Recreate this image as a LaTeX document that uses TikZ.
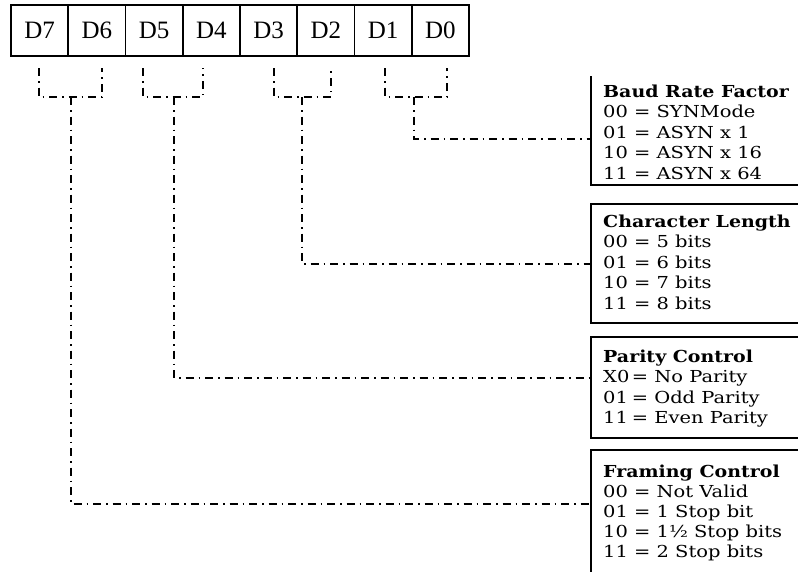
\documentclass[tikz,border=0pt]{standalone}
\usepackage{fontspec}
\newfontfamily\cellfont{Liberation Serif}
\newfontfamily\infofont{DejaVu Serif}[FakeStretch=1.18]
\newfontfamily\headfont{DejaVu Serif Bold}[FakeStretch=1.15]
\begin{document}
\begin{tikzpicture}[x=1pt,y=-1pt,
  cell/.style={draw, line width=1.6pt, minimum width=57.25pt, minimum height=51pt, inner sep=0pt, font=\cellfont\fontsize{25}{29}\selectfont},
  ddot/.style={line width=1.4pt, dash pattern=on 8pt off 5pt on 1.5pt off 5pt},
  boxline/.style={line width=1.8pt},
  head/.style={anchor=base west, inner sep=0pt, font=\headfont\fontsize{16.5}{20}\selectfont},
  entry/.style={anchor=base west, inner sep=0pt, font=\infofont\fontsize{16.5}{20}\selectfont}]
\fill[white] (0,0) rectangle (798,571);
\useasboundingbox (0,0) rectangle (798,571);

% register cells
\foreach \n [count=\i from 0] in {7,6,5,4,3,2,1,0}
  \node[cell] (d\n) at ({11+57.25*(\i+0.5)},30.5) {D\n};

% brackets under the bit pairs
\draw[ddot] (39,68) -- (39,97) -- (102,97) -- (102,68);
\draw[ddot] (143,68) -- (143,97) -- (203,97) -- (203,68);
\draw[ddot] (274,68) -- (274,97) -- (331,97) -- (331,68);
\draw[ddot] (385,68) -- (385,97) -- (447,97) -- (447,68);
\coordinate (bkA) at (71,97);
\coordinate (bkB) at (174,97);
\coordinate (bkC) at (302,97);
\coordinate (bkD) at (414,97);

% info boxes (open on the right)
\draw[boxline] (591,76) -- (591,185) -- (800,185);
\draw[boxline] (800,204) -- (591,204) -- (591,323) -- (800,323);
\draw[boxline] (800,337) -- (591,337) -- (591,438) -- (800,438);
\draw[boxline] (800,450) -- (591,450) -- (591,575);

\coordinate (baudin) at (591,139);
\coordinate (charin) at (591,264);
\coordinate (parin) at (591,378);
\coordinate (framin) at (591,504);

\draw[ddot] (bkD) |- (baudin);
\draw[ddot] (bkC) |- (charin);
\draw[ddot] (bkB) |- (parin);
\draw[ddot] (bkA) |- (framin);

% texts
\node[head] (baudh) at (603,97) {Baud Rate Factor};
\foreach \t [count=\i] in {00 = SYNMode, 01 = ASYN x 1, 10 = ASYN x 16, 11 = ASYN x 64}
  \node[entry] (baud\i) at (603,{97+20.6*\i}) {\t};

\node[head] (charh) at (603,227) {Character Length};
\foreach \t [count=\i] in {00 = 5 bits, 01 = 6 bits, 10 = 7 bits, 11 = 8 bits}
  \node[entry] (char\i) at (603,{227+20.6*\i}) {\t};

\node[head] (parh) at (603,362) {Parity Control};
\foreach \c/\t [count=\i] in {X0/No Parity, 01/Odd Parity, 11/Even Parity}
  \node[entry] (par\i) at (603,{362+20.5*\i}) {\makebox[1.36em][l]{\c} = \t};

\node[head] (framh) at (603,477) {Framing Control};
\foreach \t [count=\i] in {00 = Not Valid, 01 = 1 Stop bit, 10 = 1½ Stop bits, 11 = 2 Stop bits}
  \node[entry] (fram\i) at (603,{477+20*\i}) {\t};
\end{tikzpicture}
\end{document}
